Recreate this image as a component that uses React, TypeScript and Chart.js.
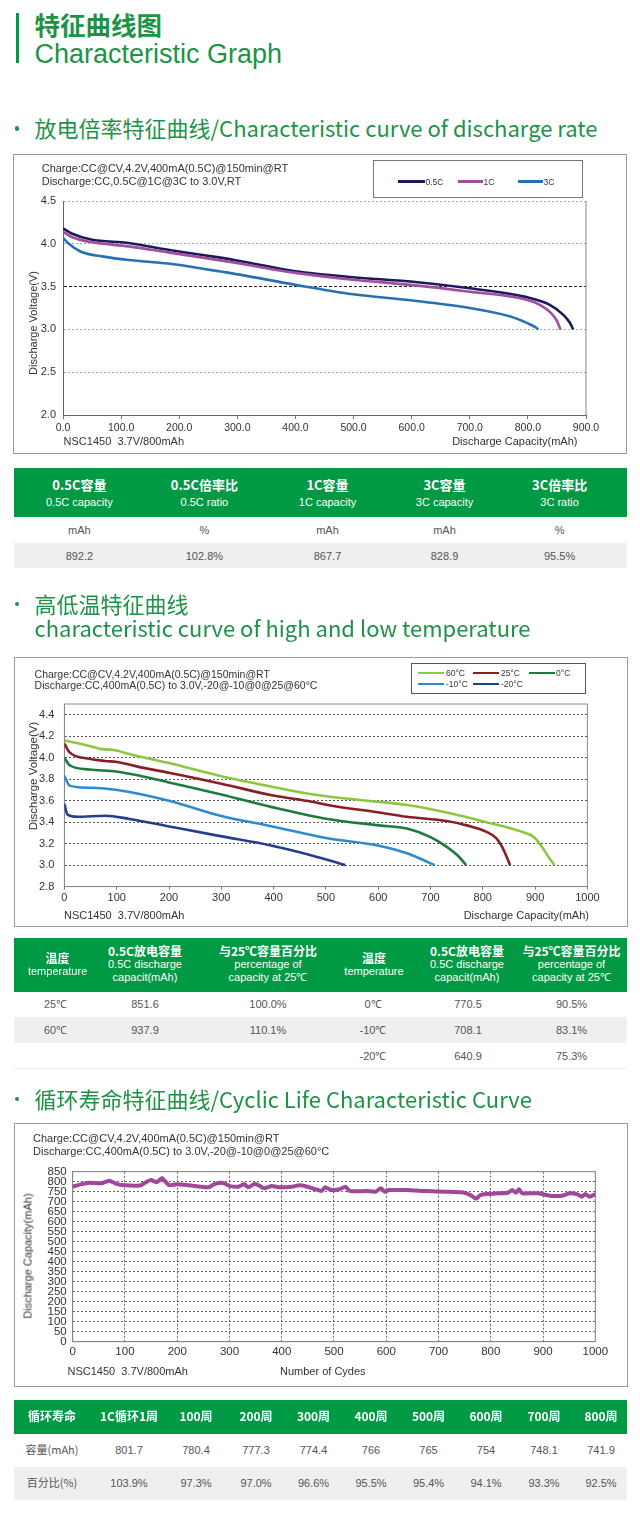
import React, { useEffect, useRef } from 'react';
import { Chart, registerables } from 'chart.js';

Chart.register(...registerables);

if (typeof document !== 'undefined') {
  document.body.style.margin = '0';
}

// ---------------- DATA ----------------
// Chart 1: discharge rate (capacity mAh -> voltage V)
const cap05C = [0, 15, 48, 113, 181, 249, 304, 400, 499, 598, 700, 796, 837, 861, 872, 878];
const volt05C = [4.18, 4.12, 4.05, 4.01, 3.93, 3.86, 3.8, 3.68, 3.61, 3.56, 3.48, 3.38, 3.29, 3.17, 3.08, 3.0];
const cap1C = [0, 15, 48, 113, 181, 249, 304, 400, 499, 598, 700, 796, 820, 840, 850, 856];
const volt1C = [4.14, 4.08, 4.02, 3.97, 3.9, 3.83, 3.77, 3.66, 3.58, 3.52, 3.44, 3.35, 3.29, 3.19, 3.1, 3.0];
const cap3C = [0, 10, 30, 70, 113, 181, 249, 304, 400, 499, 598, 700, 770, 800, 812, 818];
const volt3C = [4.07, 4.0, 3.91, 3.85, 3.81, 3.77, 3.7, 3.64, 3.52, 3.41, 3.34, 3.25, 3.15, 3.07, 3.03, 3.0];
const rateXTicks = [0, 100, 200, 300, 400, 500, 600, 700, 800, 900];
const rateYTicks = [2.0, 2.5, 3.0, 3.5, 4.0, 4.5];

// Chart 2: temperature
const cap60 = [0, 48, 71, 97, 124, 200, 298, 397, 473, 579, 655, 731, 807, 875, 898, 913, 928, 937];
const volt60 = [4.16, 4.11, 4.08, 4.07, 4.035, 3.95, 3.83, 3.73, 3.66, 3.6, 3.56, 3.49, 3.4, 3.31, 3.26, 3.17, 3.06, 3.0];
const cap25 = [0, 10, 48, 78, 101, 146, 200, 298, 397, 473, 503, 602, 655, 731, 769, 807, 826, 837, 848, 852];
const volt25 = [4.13, 4.05, 3.99, 3.97, 3.96, 3.91, 3.86, 3.76, 3.65, 3.59, 3.56, 3.49, 3.45, 3.41, 3.37, 3.31, 3.25, 3.17, 3.05, 3.0];
const cap0 = [0, 10, 48, 101, 146, 200, 298, 397, 503, 602, 655, 700, 731, 754, 768];
const volt0 = [4.0, 3.93, 3.89, 3.87, 3.83, 3.77, 3.66, 3.54, 3.43, 3.37, 3.34, 3.26, 3.17, 3.08, 3.0];
const capM10 = [0, 10, 48, 101, 200, 298, 397, 503, 602, 655, 685, 708];
const voltM10 = [3.83, 3.74, 3.72, 3.7, 3.6, 3.46, 3.36, 3.25, 3.18, 3.11, 3.05, 3.0];
const capM20 = [0, 6, 25, 78, 124, 200, 298, 397, 473, 537];
const voltM20 = [3.57, 3.47, 3.45, 3.46, 3.43, 3.36, 3.27, 3.18, 3.09, 3.0];
const tempXTicks = [0, 100, 200, 300, 400, 500, 600, 700, 800, 900, 1000];
const tempYTicks = [2.8, 3.0, 3.2, 3.4, 3.6, 3.8, 4.0, 4.2, 4.4];

// Chart 3: cycle life
const cycles = [0, 17, 32, 55, 70, 85, 100, 123, 131, 142, 150, 161, 171, 184, 199, 222, 245, 260, 271, 283, 290, 301, 317, 328, 336, 347, 355, 366, 381, 396, 419, 434, 449, 465, 476, 483, 495, 510, 522, 529, 541, 563, 579, 590, 597, 605, 639, 677, 715, 745, 761, 772, 780, 791, 814, 833, 841, 848, 854, 860, 890, 913, 936, 951, 966, 974, 981, 989, 1000];
const cycleCap = [775, 788, 795, 792, 805, 788, 782, 780, 783, 800, 808, 797, 818, 783, 787, 782, 775, 772, 788, 795, 792, 778, 775, 788, 772, 788, 783, 767, 778, 772, 775, 782, 775, 762, 753, 772, 758, 762, 775, 755, 752, 753, 750, 767, 750, 758, 758, 753, 750, 747, 733, 715, 733, 738, 742, 745, 758, 745, 762, 742, 742, 730, 730, 742, 737, 725, 738, 725, 738];
const cycleXTicks = [0, 100, 200, 300, 400, 500, 600, 700, 800, 900, 1000];
const cycleYTicks = [0, 50, 100, 150, 200, 250, 300, 350, 400, 450, 500, 550, 600, 650, 700, 750, 800, 850];

// Tables
const rateHeadCn = ['0.5C容量', '0.5C倍率比', '1C容量', '3C容量', '3C倍率比'];
const rateHeadEn = ['0.5C capacity', '0.5C ratio', '1C capacity', '3C capacity', '3C ratio'];
const rateUnits = ['mAh', '%', 'mAh', 'mAh', '%'];
const rateValues = ['892.2', '102.8%', '867.7', '828.9', '95.5%'];

const tempHeadCn = ['温度', '0.5C放电容量', '与25℃容量百分比', '温度', '0.5C放电容量', '与25℃容量百分比'];
const tempHeadEn = [['temperature'], ['0.5C discharge', 'capacit(mAh)'], ['percentage of', 'capacity at 25℃'], ['temperature'], ['0.5C discharge', 'capacit(mAh)'], ['percentage of', 'capacity at 25℃']];
const tempRow1 = ['25℃', '851.6', '100.0%', '0℃', '770.5', '90.5%'];
const tempRow2 = ['60℃', '937.9', '110.1%', '-10℃', '708.1', '83.1%'];
const tempRow3 = ['', '', '', '-20℃', '640.9', '75.3%'];

const cycleHead = ['循环寿命', '1C循环1周', '100周', '200周', '300周', '400周', '500周', '600周', '700周', '800周'];
const cycleCapRow = ['容量(mAh)', '801.7', '780.4', '777.3', '774.4', '766', '765', '754', '748.1', '741.9'];
const cyclePctRow = ['百分比(%)', '103.9%', '97.3%', '97.0%', '96.6%', '95.5%', '95.4%', '94.1%', '93.3%', '92.5%'];

// ---------------- STYLE / LAYOUT ----------------
const GREEN = '#009944';
const TITLE_GREEN = '#1d9346';
const SANS = "'Liberation Sans', Arial, sans-serif";
const CJK = "'Noto Sans CJK SC', 'Noto Sans', sans-serif";

const rateCols = [79.4, 204.4, 327.5, 444.5, 559.6];
const tempHeadCols = [57.6, 145, 268, 374, 467, 571.5];
const tempBodyCols = [55.6, 145, 268, 373, 468, 571.5];
const cycleCols = [52, 129, 196, 256, 313.5, 371, 428.5, 486, 544, 601];

const zip = (xs: number[], ys: number[]) => xs.map((x, i) => ({ x, y: ys[i] }));

const framePlugin = {
  id: 'frame',
  beforeDatasetsDraw(chart: any, _args: any, opts: any) {
    if (!opts || !opts.color) return;
    const { ctx, chartArea: a } = chart;
    const sides: string[] = opts.sides || ['top', 'right', 'bottom', 'left'];
    ctx.save();
    ctx.strokeStyle = opts.color;
    ctx.lineWidth = 1;
    ctx.setLineDash([]);
    ctx.beginPath();
    if (sides.includes('top')) { ctx.moveTo(a.left, a.top); ctx.lineTo(a.right, a.top); }
    if (sides.includes('right')) { ctx.moveTo(a.right, a.top); ctx.lineTo(a.right, a.bottom); }
    if (sides.includes('bottom')) { ctx.moveTo(a.left, a.bottom); ctx.lineTo(a.right, a.bottom); }
    if (sides.includes('left')) { ctx.moveTo(a.left, a.top); ctx.lineTo(a.left, a.bottom); }
    ctx.stroke();
    ctx.restore();
  },
};

type Geo = { left: number; top: number; width: number; height: number; aL: number; aR: number; aT: number; aB: number };

const fixY = (w: number) => (s: any) => { s.width = w; s.paddingTop = 0; s.paddingBottom = 0; s.paddingLeft = 0; s.paddingRight = 0; };
const fixX = (h: number) => (s: any) => { s.height = h; s.paddingTop = 0; s.paddingBottom = 0; s.paddingLeft = 0; s.paddingRight = 0; };
const setTicks = (vals: number[]) => (s: any) => { s.ticks = vals.map((v) => ({ value: v })); };
const plain = (v: number) => String(v);

function baseOptions(geo: Geo) {
  return {
    responsive: true,
    maintainAspectRatio: false,
    animation: false,
    events: [],
    layout: { padding: { left: 0, top: geo.aT - geo.top, right: geo.left + geo.width - geo.aR, bottom: 0 } },
    elements: { point: { radius: 0 } },
  };
}

function rateConfig(geo: Geo): any {
  const mk = (label: string, xs: number[], ys: number[], color: string) => ({
    label, data: zip(xs, ys), borderColor: color, backgroundColor: color, borderWidth: 2.6,
    cubicInterpolationMode: 'monotone', pointRadius: 0, fill: false,
  });
  return {
    type: 'line',
    data: {
      datasets: [
        mk('3C', cap3C, volt3C, '#2671b5'),
        mk('1C', cap1C, volt1C, '#a24d9e'),
        mk('0.5C', cap05C, volt05C, '#1c1a5c'),
      ],
    },
    options: {
      ...baseOptions(geo),
      plugins: { legend: { display: false }, tooltip: { enabled: false }, frame: { color: '#8a8a8a', sides: ['right'] } },
      scales: {
        x: {
          type: 'linear', min: 0, max: 900,
          afterFit: fixX(geo.top + geo.height - geo.aB), afterBuildTicks: setTicks(rateXTicks),
          ticks: { font: { family: SANS, size: 10.5 }, color: '#333', padding: 3, callback: (v: number) => v.toFixed(1), maxRotation: 0, autoSkip: false },
          grid: { drawOnChartArea: false, drawTicks: true, tickLength: 4, tickColor: '#777' },
          border: { color: '#666', width: 1 },
        },
        y: {
          type: 'linear', min: 2, max: 4.5,
          afterFit: fixY(geo.aL - geo.left), afterBuildTicks: setTicks(rateYTicks),
          ticks: { font: { family: SANS, size: 11 }, color: '#333', padding: 7, callback: (v: number) => v.toFixed(1), autoSkip: false },
          grid: { drawTicks: false, color: (c: any) => (c.tick && c.tick.value === 3.5 ? '#222' : '#a8a8a8'), lineWidth: 1 },
          border: { color: '#666', width: 1, dash: (c: any) => (c.tick && c.tick.value === 3.5 ? [3, 2] : [2, 2]) },
        },
      },
    },
    plugins: [framePlugin],
  };
}

function tempConfig(geo: Geo): any {
  const mk = (label: string, xs: number[], ys: number[], color: string) => ({
    label, data: zip(xs, ys), borderColor: color, backgroundColor: color, borderWidth: 2.6,
    cubicInterpolationMode: 'monotone', pointRadius: 0, fill: false,
  });
  return {
    type: 'line',
    data: {
      datasets: [
        mk('-20°C', capM20, voltM20, '#233e8f'),
        mk('-10°C', capM10, voltM10, '#2f8bd0'),
        mk('0°C', cap0, volt0, '#1e7b3e'),
        mk('25°C', cap25, volt25, '#8b1d24'),
        mk('60°C', cap60, volt60, '#8dc63f'),
      ],
    },
    options: {
      ...baseOptions(geo),
      plugins: { legend: { display: false }, tooltip: { enabled: false }, frame: { color: '#8a8a8a' } },
      scales: {
        x: {
          type: 'linear', min: 0, max: 1000,
          afterFit: fixX(geo.top + geo.height - geo.aB), afterBuildTicks: setTicks(tempXTicks),
          ticks: { font: { family: SANS, size: 11 }, color: '#333', padding: 2, maxRotation: 0, autoSkip: false, callback: plain },
          grid: { drawOnChartArea: false, drawTicks: true, tickLength: 3, tickColor: '#777' },
          border: { color: '#777', width: 1 },
        },
        y: {
          type: 'linear', min: 2.8, max: 4.5,
          afterFit: fixY(geo.aL - geo.left), afterBuildTicks: setTicks(tempYTicks),
          ticks: { font: { family: SANS, size: 11 }, color: '#333', padding: 10, callback: (v: number) => v.toFixed(1), autoSkip: false },
          grid: { drawTicks: false, color: '#555', lineWidth: 1 },
          border: { color: '#777', width: 1, dash: [2, 2] },
        },
      },
    },
    plugins: [framePlugin],
  };
}

function cycleConfig(geo: Geo): any {
  return {
    type: 'line',
    data: {
      datasets: [
        {
          label: 'capacity', data: zip(cycles, cycleCap), borderColor: '#a0479a', backgroundColor: '#a0479a',
          borderWidth: 4, tension: 0.15, pointRadius: 0, fill: false,
        },
      ],
    },
    options: {
      ...baseOptions(geo),
      plugins: { legend: { display: false }, tooltip: { enabled: false }, frame: { color: '#8a8a8a' } },
      scales: {
        x: {
          type: 'linear', min: 0, max: 1000,
          afterFit: fixX(geo.top + geo.height - geo.aB), afterBuildTicks: setTicks(cycleXTicks),
          ticks: { font: { family: SANS, size: 11.5 }, color: '#333', padding: 3.5, maxRotation: 0, autoSkip: false, callback: plain },
          grid: { drawTicks: false, color: '#666', lineWidth: 1 },
          border: { color: '#777', width: 1, dash: [2, 2] },
        },
        y: {
          type: 'linear', min: 0, max: 850,
          afterFit: fixY(geo.aL - geo.left), afterBuildTicks: setTicks(cycleYTicks),
          ticks: { font: { family: SANS, size: 11.5 }, color: '#333', padding: 6, autoSkip: false, callback: plain },
          grid: { drawTicks: false, color: '#666', lineWidth: 1 },
          border: { color: '#777', width: 1, dash: [2, 2] },
        },
      },
    },
    plugins: [framePlugin],
  };
}

// ---------------- COMPONENTS ----------------
function ChartCanvas({ geo, build }: { geo: Geo; build: (g: Geo) => any }) {
  const ref = useRef<HTMLCanvasElement>(null);
  useEffect(() => {
    const chart = new Chart(ref.current as HTMLCanvasElement, build(geo));
    return () => chart.destroy();
  }, []);
  return (
    <div style={{ position: 'absolute', left: geo.left, top: geo.top, width: geo.width, height: geo.height }}>
      <canvas ref={ref} />
    </div>
  );
}

type TxtProps = {
  x: number; y: number; size: number; children?: any; align?: 'left' | 'right' | 'center';
  cjk?: boolean; color?: string; weight?: number; font?: string;
};
function Txt({ x, y, size, children, align = 'left', cjk = false, color = '#333', weight = 400, font }: TxtProps) {
  const k = cjk ? 0.556 : 0.49;
  const style: any = {
    position: 'absolute', top: y - size * k, fontSize: size, lineHeight: size + 'px',
    fontFamily: font || (cjk ? CJK : SANS), color, fontWeight: weight, whiteSpace: 'pre',
  };
  if (align === 'left') style.left = x;
  else if (align === 'right') style.right = 640 - x;
  else { style.left = x; style.transform = 'translateX(-50%)'; }
  return <div style={style}>{children}</div>;
}

function VTxt({ x, y, size, children }: { x: number; y: number; size: number; children: any }) {
  return (
    <div style={{
      position: 'absolute', left: x, top: y, transform: 'translate(-50%,-50%) rotate(-90deg)',
      fontSize: size, lineHeight: size + 'px', fontFamily: SANS, color: '#333', whiteSpace: 'pre',
    }}>{children}</div>
  );
}

function Rect({ x, y, w, h, bg, border }: { x: number; y: number; w: number; h: number; bg?: string; border?: string }) {
  return <div style={{ position: 'absolute', left: x, top: y, width: w, height: h, background: bg, border, boxSizing: 'border-box' }} />;
}

function LegendLine({ x1, x2, y, color, w }: { x1: number; x2: number; y: number; color: string; w: number }) {
  return <div style={{ position: 'absolute', left: x1, top: y - w / 2, width: x2 - x1, height: w, background: color }} />;
}

function Bullet({ x, y }: { x: number; y: number }) {
  return <div style={{ position: 'absolute', left: x - 2.3, top: y - 2.3, width: 4.6, height: 4.6, borderRadius: '50%', background: TITLE_GREEN }} />;
}

const geo1: Geo = { left: 13, top: 154, width: 614, height: 300, aL: 63, aR: 586, aT: 201, aB: 415 };
const geo2: Geo = { left: 14, top: 657, width: 614, height: 270, aL: 64.4, aR: 587.4, aT: 704, aB: 886.6 };
const geo3: Geo = { left: 14, top: 1123, width: 614, height: 264, aL: 72.7, aR: 595.3, aT: 1171.7, aB: 1341.7 };

const SEC = 22;

export default function App() {
  const tLeft = 14;
  const tWidth = 613;
  return (
    <div style={{ position: 'relative', width: 640, height: 1526, background: '#fff', overflow: 'hidden' }}>
      {/* Header */}
      <div style={{ position: 'absolute', left: 15.5, top: 13, width: 3.5, height: 50, background: GREEN }} />
      <Txt x={34.5} y={25.5} size={25.5} cjk weight={700} color={TITLE_GREEN}>特征曲线图</Txt>
      <Txt x={34.5} y={54.7} size={27} color={TITLE_GREEN}>Characteristic Graph</Txt>

      {/* Section 1 */}
      <Bullet x={17} y={128.5} />
      <Txt x={34.5} y={128.5} size={SEC} cjk color={TITLE_GREEN}>放电倍率特征曲线/Characteristic curve of discharge rate</Txt>

      <Rect x={geo1.left} y={geo1.top} w={geo1.width} h={geo1.height} bg="#fff" border="1px solid #9a9a9a" />
      <ChartCanvas geo={geo1} build={rateConfig} />
      <Txt x={41.7} y={168} size={11}>Charge:CC@CV,4.2V,400mA(0.5C)@150min@RT</Txt>
      <Txt x={41.7} y={181.7} size={11}>Discharge:CC,0.5C@1C@3C to 3.0V,RT</Txt>
      <Rect x={373.3} y={160} w={210} h={38} border="1px solid #777" />
      <LegendLine x1={398} x2={425} y={181.7} color="#1c1a5c" w={2.7} />
      <Txt x={425.5} y={181.7} size={8.5}>0.5C</Txt>
      <LegendLine x1={458} x2={483} y={181.7} color="#a24d9e" w={2.7} />
      <Txt x={483.5} y={181.7} size={8.5}>1C</Txt>
      <LegendLine x1={518} x2={543} y={181.7} color="#2671b5" w={2.7} />
      <Txt x={543.5} y={181.7} size={8.5}>3C</Txt>
      <VTxt x={32.5} y={322.5} size={11}>Discharge Voltage(V)</VTxt>
      <Txt x={63.6} y={441.7} size={11}>NSC1450  3.7V/800mAh</Txt>
      <Txt x={577.5} y={441.7} size={11} align="right">Discharge Capacity(mAh)</Txt>

      {/* Table 1 */}
      <Rect x={tLeft} y={468} w={tWidth} h={49} bg={GREEN} />
      <Rect x={tLeft} y={543} w={tWidth} h={25} bg="#efefef" />
      {rateHeadCn.map((t, i) => (
        <Txt key={'rc' + i} x={rateCols[i]} y={485} size={13} cjk weight={700} color="#fff" align="center">{t}</Txt>
      ))}
      {rateHeadEn.map((t, i) => (
        <Txt key={'re' + i} x={rateCols[i]} y={502.7} size={11} color="#fff" align="center">{t}</Txt>
      ))}
      {rateUnits.map((t, i) => (
        <Txt key={'ru' + i} x={rateCols[i]} y={530} size={11} color="#555" align="center">{t}</Txt>
      ))}
      {rateValues.map((t, i) => (
        <Txt key={'rv' + i} x={rateCols[i]} y={556} size={11} color="#555" align="center">{t}</Txt>
      ))}

      {/* Section 2 */}
      <Bullet x={17} y={604} />
      <Txt x={34.5} y={604} size={SEC} cjk color={TITLE_GREEN}>高低温特征曲线</Txt>
      <Txt x={34.5} y={628.5} size={SEC} cjk color={TITLE_GREEN}>characteristic curve of high and low temperature</Txt>

      <Rect x={geo2.left} y={geo2.top} w={geo2.width} h={geo2.height} bg="#fff" border="1px solid #9a9a9a" />
      <ChartCanvas geo={geo2} build={tempConfig} />
      <Txt x={34.6} y={674.3} size={10.5}>Charge:CC@CV,4.2V,400mA(0.5C)@150min@RT</Txt>
      <Txt x={34.6} y={685.3} size={10.5}>Discharge:CC,400mA(0.5C) to 3.0V,-20@-10@0@25@60°C</Txt>
      <Rect x={411} y={663} w={175} h={31} border="1px solid #555" />
      <LegendLine x1={418} x2={444} y={673} color="#8dc63f" w={2.4} />
      <Txt x={446} y={673} size={8.5}>60°C</Txt>
      <LegendLine x1={473} x2={499} y={673} color="#8b1d24" w={2.4} />
      <Txt x={501} y={673} size={8.5}>25°C</Txt>
      <LegendLine x1={529} x2={555} y={673} color="#1e7b3e" w={2.4} />
      <Txt x={556} y={673} size={8.5}>0°C</Txt>
      <LegendLine x1={418} x2={444} y={684} color="#2f8bd0" w={2.4} />
      <Txt x={446} y={684} size={8.5}>-10°C</Txt>
      <LegendLine x1={473} x2={499} y={684} color="#233e8f" w={2.4} />
      <Txt x={501} y={684} size={8.5}>-20°C</Txt>
      <VTxt x={34} y={776} size={11.5}>Discharge Voltage(V)</VTxt>
      <Txt x={64} y={915} size={11}>NSC1450  3.7V/800mAh</Txt>
      <Txt x={589} y={915} size={11} align="right">Discharge Capacity(mAh)</Txt>

      {/* Table 2 */}
      <Rect x={tLeft} y={938} w={tWidth} h={54} bg={GREEN} />
      <Rect x={tLeft} y={1017} w={tWidth} h={26} bg="#efefef" />
      <Rect x={tLeft} y={1068} w={tWidth} h={1} bg="#eeeeee" />
      {tempHeadCn.map((t, i) => {
        const two = tempHeadEn[i].length === 1;
        return (
          <Txt key={'tc' + i} x={tempHeadCols[i]} y={two ? 958.3 : 951.7} size={12} cjk weight={700} color="#fff" align="center">{t}</Txt>
        );
      })}
      {tempHeadEn.map((lines, i) =>
        lines.map((t, j) => {
          const y = lines.length === 1 ? 971 : 964.5 + j * 12.8;
          return <Txt key={'te' + i + '-' + j} x={tempHeadCols[i]} y={y} size={11} color="#fff" align="center">{t}</Txt>;
        })
      )}
      {[tempRow1, tempRow2, tempRow3].map((row, r) =>
        row.map((t, i) => (
          <Txt key={'tr' + r + '-' + i} x={tempBodyCols[i]} y={1004.5 + r * 25.7} size={11} color="#555" align="center">{t}</Txt>
        ))
      )}

      {/* Section 3 */}
      <Bullet x={17} y={1099} />
      <Txt x={34.5} y={1099} size={SEC} cjk color={TITLE_GREEN}>循环寿命特征曲线/Cyclic Life Characteristic Curve</Txt>

      <Rect x={geo3.left} y={geo3.top} w={geo3.width} h={geo3.height} bg="#fff" border="1px solid #9a9a9a" />
      <ChartCanvas geo={geo3} build={cycleConfig} />
      <Txt x={33} y={1138.3} size={11}>Charge:CC@CV,4.2V,400mA(0.5C)@150min@RT</Txt>
      <Txt x={33} y={1151} size={11}>Discharge:CC,400mA(0.5C) to 3.0V,-20@-10@0@25@60°C</Txt>
      <VTxt x={28} y={1256} size={11}>Discharge Capacity(mAh)</VTxt>
      <Txt x={67.5} y={1371.7} size={11}>NSC1450  3.7V/800mAh</Txt>
      <Txt x={280} y={1371.7} size={11}>Number of Cydes</Txt>

      {/* Table 3 */}
      <Rect x={tLeft} y={1400} w={tWidth} h={33.5} bg={GREEN} />
      <Rect x={tLeft} y={1467} w={tWidth} h={33} bg="#efefef" />
      {cycleHead.map((t, i) => (
        <Txt key={'ch' + i} x={cycleCols[i]} y={1416.5} size={12} cjk weight={700} color="#fff" align="center">{t}</Txt>
      ))}
      {cycleCapRow.map((t, i) => (
        <Txt key={'cc' + i} x={cycleCols[i]} y={1450} size={11} cjk={i === 0} color="#555" align="center">{t}</Txt>
      ))}
      {cyclePctRow.map((t, i) => (
        <Txt key={'cp' + i} x={cycleCols[i]} y={1483.5} size={11} cjk={i === 0} color="#555" align="center">{t}</Txt>
      ))}
    </div>
  );
}
